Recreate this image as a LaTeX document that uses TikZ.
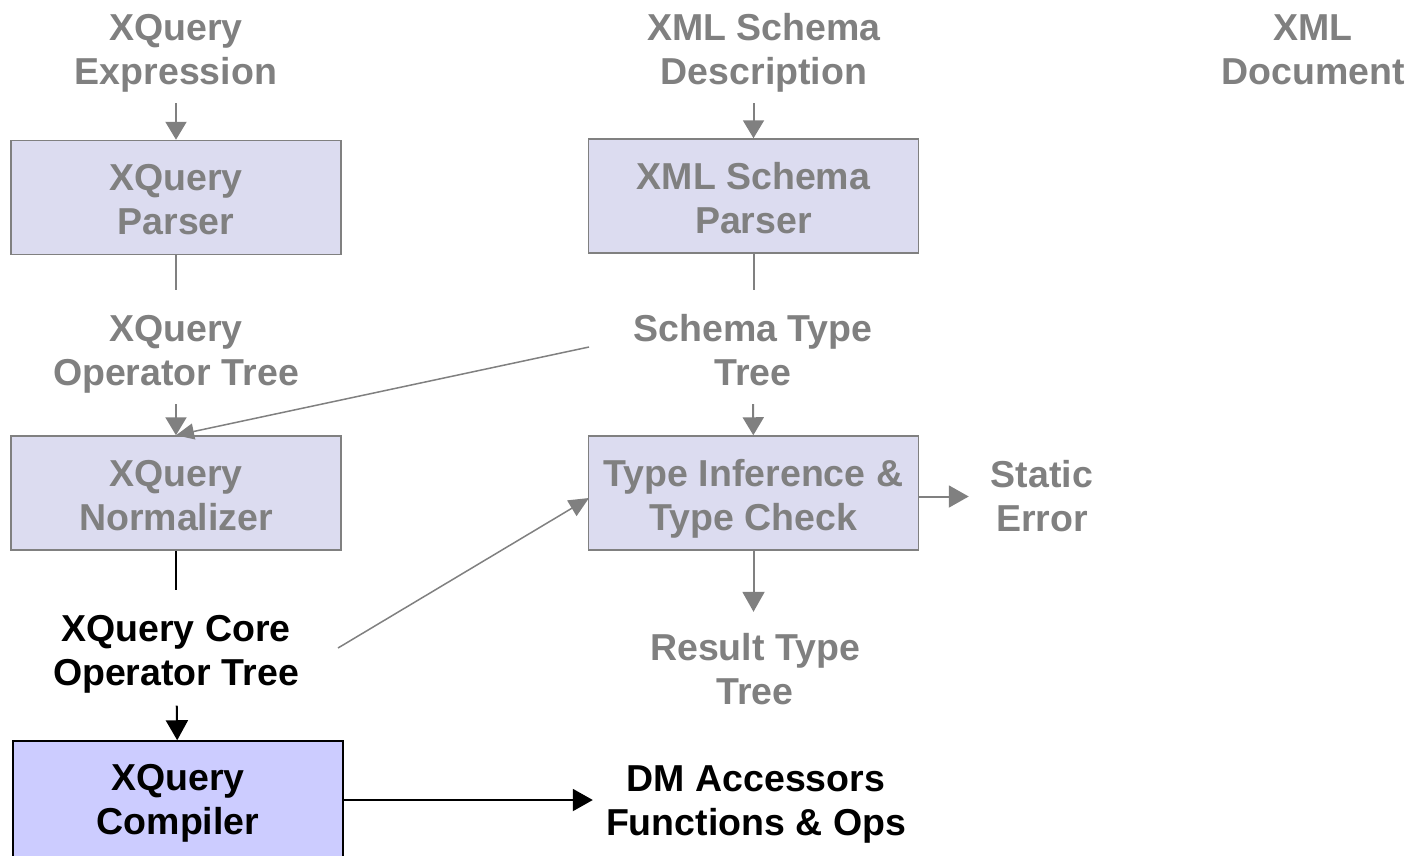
\documentclass[tikz,border=0pt]{standalone}
\usepackage{fontspec}
\setmainfont{Liberation Sans}
\usetikzlibrary{arrows.meta,calc}
\definecolor{txtgray}{HTML}{808080}
\definecolor{boxfill}{HTML}{DCDCF0}
\definecolor{compfill}{HTML}{CCCCFF}
\tikzset{
  twoline/.style={align=center, font=\fontsize{37.5}{44}\selectfont\bfseries},
  lbl/.style={twoline, inner sep=0pt, minimum height=88pt,
    text height=79pt, text depth=9pt},
  glbl/.style={lbl, text=txtgray},
  blbl/.style={lbl, text=black},
  stagebox/.style={twoline, draw=txtgray, line width=1.5pt, fill=boxfill,
    minimum width=330pt, minimum height=114pt, inner sep=0pt,
    text height=81pt, text depth=7pt, text=txtgray},
  compbox/.style={stagebox, draw=black, fill=compfill, text=black,
    minimum height=118pt, text height=78pt, text depth=10pt},
  gline/.style={draw=txtgray, line width=2pt},
  garrow/.style={gline, -{Triangle[length=20pt,width=22pt]}},
  smallarrow/.style={gline, -{Triangle[length=18pt,width=21pt]}},
  bline/.style={draw=black, line width=2pt},
  barrow/.style={bline, -{Triangle[length=20pt,width=22pt]}},
}
\begin{document}
\begin{tikzpicture}[x=1pt,y=-1pt]
\useasboundingbox (0,0) rectangle (1413,855);

% inputs
\node[glbl] (expr) at (176,49) {XQuery\\Expression};
\node[glbl] (xsd)  at (764,49) {XML Schema\\Description};
\node[glbl] (xdoc) at (1313,49) {XML\\Document};

% first stage
\node[stagebox] (xparser) at (176,197.5) {XQuery\\Parser};
\node[stagebox] (sparser) at (753.5,196) {XML Schema\\Parser};

% intermediate trees
\node[glbl] (optree)  at (176,350) {XQuery\\Operator Tree};
\node[glbl] (stt)     at (753,350) {Schema Type\\Tree};

% second stage
\node[stagebox] (norm) at (176,493) {XQuery\\Normalizer};
\node[stagebox] (tinf) at (753.5,493) {Type Inference \&\\Type Check};
\node[glbl] (serr) at (1042,496.5) {Static\\Error};

% core tree and results
\node[blbl] (core)  at (176,650.5) {XQuery Core\\Operator Tree};
\node[glbl] (rtt)   at (755,669) {Result Type\\Tree};

% compiler
\node[compbox] (comp) at (178,800) {XQuery\\Compiler};
\node[blbl] (dm) at (756,800) {DM Accessors\\Functions \& Ops};

% connector ends
\coordinate (sttout) at (589,347);
\coordinate (coreout) at (338,648);
\coordinate (tinfin) at (589,498);

% connectors
\draw[smallarrow, shorten <=10pt] (expr) -- (xparser);
\draw[smallarrow, shorten <=10pt] (xsd.south -| sparser.north) -- (sparser);
\draw[gline, shorten >=16pt] (xparser) -- (optree);
\draw[gline, shorten >=16pt] (sparser.south) -- (sparser.south |- stt.north);
\draw[smallarrow, shorten <=10pt] (optree) -- (norm);
\draw[smallarrow, shorten <=10pt] (stt) -- (tinf);
\draw[gline, line width=1.5pt, -{Triangle[length=18pt,width=16pt]}] (sttout) -- (norm.north);
\draw[bline, shorten >=16pt] (norm) -- (core);
\draw[gline, line width=1.5pt, -{Triangle[length=20pt,width=18pt]}] (coreout) -- (tinfin);
\draw[garrow, shorten >=22pt] (tinf.east |- serr.west) -- (serr.west);
\draw[garrow, shorten >=13pt] (tinf) -- (tinf.south |- rtt.north);
\draw[barrow, shorten <=11pt] (core) -- (comp);
\draw[barrow, shorten >=13pt] (comp.east |- dm.west) -- (dm.west);
\end{tikzpicture}
\end{document}
